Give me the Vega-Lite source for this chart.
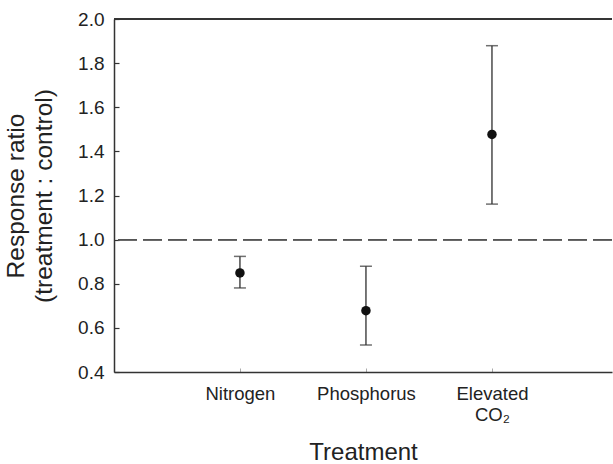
{
  "$schema": "https://vega.github.io/schema/vega-lite/v6.json",
  "width": 498,
  "height": 353,
  "autosize": {"type": "none"},
  "padding": {"left": 114, "top": 19, "right": 1, "bottom": 92},
  "background": "white",
  "config": {
    "font": "Liberation Sans",
    "view": {"stroke": null},
    "axis": {"grid": false}
  },
  "data": {
    "values": [
      {"treatment": "Nitrogen", "ratio": 0.849, "lower": 0.781, "upper": 0.924},
      {"treatment": "Phosphorus", "ratio": 0.678, "lower": 0.522, "upper": 0.879},
      {"treatment": "Elevated CO₂", "ratio": 1.477, "lower": 1.161, "upper": 1.879}
    ]
  },
  "layer": [
    {
      "mark": {"type": "rule", "color": "#333333", "strokeWidth": 1.5},
      "encoding": {"y": {"datum": 2.0}}
    },
    {
      "mark": {"type": "rule", "color": "#555555", "strokeWidth": 1.5, "strokeDash": [19, 6]},
      "encoding": {"y": {"datum": 1.0}}
    },
    {
      "mark": {"type": "rule", "color": "#4a4a4a", "strokeWidth": 1.5},
      "encoding": {
        "x": {
          "field": "treatment",
          "type": "nominal",
          "sort": null,
          "scale": {"type": "point", "padding": 0.976, "align": 0.512, "domain": ["Nitrogen", "Phosphorus", "Elevated CO₂"]},
          "axis": {
            "title": "Treatment",
            "titleFont": "Liberation Sans",
            "titleFontSize": 24,
            "titleFontWeight": "normal",
            "titleColor": "#222222",
            "titlePadding": 17,
            "labelAngle": 0,
            "labelFontSize": 18.5,
            "labelColor": "#222222",
            "labelPadding": 16,
            "labelLineHeight": 21,
            "labelExpr": "split(datum.label, ' ')",
            "tickSize": -4,
            "tickColor": "#aaaaaa",
            "domainColor": "#333333",
            "domainWidth": 1.5
          }
        },
        "y": {
          "field": "lower",
          "type": "quantitative",
          "scale": {"domain": [0.4, 2.0], "nice": false, "zero": false},
          "axis": {
            "title": ["Response ratio", "(treatment : control)"],
            "titleFontSize": 24.5,
            "titleFontWeight": "normal",
            "titleColor": "#222222",
            "titleLineHeight": 28,
            "titlePadding": 21,
            "values": [0.4, 0.6, 0.8, 1.0, 1.2, 1.4, 1.6, 1.8, 2.0],
            "format": ".1f",
            "labelFontSize": 19,
            "labelColor": "#222222",
            "labelPadding": 15,
            "tickSize": -5,
            "tickColor": "#333333",
            "tickWidth": 1.2,
            "domainColor": "#333333",
            "domainWidth": 1.5
          }
        },
        "y2": {"field": "upper"}
      }
    },
    {
      "mark": {"type": "tick", "color": "#333333", "size": 12, "thickness": 1.5},
      "encoding": {
        "x": {"field": "treatment", "type": "nominal", "sort": null},
        "y": {"field": "lower", "type": "quantitative"}
      }
    },
    {
      "mark": {"type": "tick", "color": "#333333", "size": 12, "thickness": 1.5},
      "encoding": {
        "x": {"field": "treatment", "type": "nominal", "sort": null},
        "y": {"field": "upper", "type": "quantitative"}
      }
    },
    {
      "mark": {"type": "point", "shape": "circle", "filled": true, "color": "#111111", "size": 90, "opacity": 1},
      "encoding": {
        "x": {"field": "treatment", "type": "nominal", "sort": null},
        "y": {"field": "ratio", "type": "quantitative"}
      }
    }
  ]
}
